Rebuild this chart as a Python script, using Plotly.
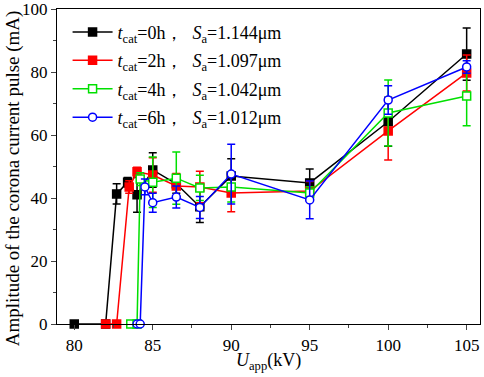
import plotly.graph_objects as go

# Data
x_0h = [80, 82, 82.7, 83.4, 84, 85, 86.5, 88, 90, 95, 100, 105]
y_0h = [0, 0, 41.3, 45, 41, 48.9, 44.5, 37.2, 47, 44.8, 64.2, 85.7]
e_0h = [0, 0, 3.2, 1.5, 5.5, 5.5, 3, 5, 5.5, 4.4, 7.8, 8.3]

x_2h = [82, 82.7, 83.5, 84, 85, 86.5, 88, 90, 95, 100, 105]
y_2h = [0, 0, 43.5, 48.3, 47.3, 43.8, 43.5, 41.6, 42.2, 61.3, 79.7]
e_2h = [0, 0, 2, 1.5, 5.5, 4, 5, 6, 3, 9.2, 5.7]

x_4h = [83.6, 84, 84.2, 85, 86.5, 88, 90, 95, 100, 105]
y_4h = [0, 0, 46, 45, 46.3, 43.2, 43.5, 41.6, 67, 72.4]
e_4h = [0, 0, 2, 8, 8.3, 4, 4.8, 2, 10.5, 9.5]

x_6h = [84, 84.2, 84.5, 85, 86.5, 88, 90, 95, 100, 105]
y_6h = [0, 0, 43.5, 38.5, 40.3, 37, 47.6, 39.4, 71.1, 81.6]
e_6h = [0, 0, 2.5, 3, 3.5, 3.5, 9.5, 6, 4.5, 2]

names = [
    "<i>t</i><sub>cat</sub>=0h，  <i>S</i><sub>a</sub>=1.144μm",
    "<i>t</i><sub>cat</sub>=2h，  <i>S</i><sub>a</sub>=1.097μm",
    "<i>t</i><sub>cat</sub>=4h，  <i>S</i><sub>a</sub>=1.042μm",
    "<i>t</i><sub>cat</sub>=6h，  <i>S</i><sub>a</sub>=1.012μm",
]

x_title = "<i>U</i><sub>app</sub>(kV)"
y_title = "Amplitude of the corona current pulse (mA)"

series = [
    (x_0h, y_0h, e_0h, "#000000", "square", "#000000"),
    (x_2h, y_2h, e_2h, "#ff0000", "square", "#ff0000"),
    (x_4h, y_4h, e_4h, "#00e000", "square", "#ffffff"),
    (x_6h, y_6h, e_6h, "#0000ff", "circle", "#ffffff"),
]

fig = go.Figure()
for i, ((xs, ys, es, col, sym, fill), nm) in enumerate(zip(series, names)):
    fig.add_trace(go.Scatter(
        x=xs, y=ys, name=nm, mode="lines+markers", legendgroup=f"g{i}",
        line=dict(color=col, width=1.5),
        marker=dict(symbol=sym, size=8, color=fill, line=dict(color=col, width=1.5)),
        error_y=dict(type="data", array=es, visible=True, color=col, thickness=1.5, width=4),
        cliponaxis=False,
    ))

font = "Liberation Serif, Times New Roman, serif"
fig.update_layout(
    width=484, height=377,
    margin=dict(l=57, r=4, t=9, b=53),
    paper_bgcolor="white", plot_bgcolor="white",
    font=dict(family=font, size=16, color="black"),
    showlegend=True,
    legend=dict(x=0.025, y=0.985, xanchor="left", yanchor="top",
                bgcolor="rgba(0,0,0,0)", font=dict(size=18, family=font),
                tracegroupgap=2, itemwidth=40),
    xaxis=dict(
        range=[78.9, 105.85], tickvals=[80, 85, 90, 95, 100, 105], automargin=False,
        ticks="outside", ticklen=5, tickwidth=1.2, showgrid=False, zeroline=False,
        showline=True, linecolor="black", linewidth=1.2, mirror=True,
        minor=dict(tickvals=[82.5, 87.5, 92.5, 97.5, 102.5], ticks="outside", ticklen=3, tickwidth=1),
        tickfont=dict(size=17), ticklabeloverflow="allow",
    ),
    yaxis=dict(
        range=[0, 100], tickvals=[0, 20, 40, 60, 80, 100], automargin=False,
        ticks="outside", ticklen=5, tickwidth=1.2, showgrid=False, zeroline=False,
        showline=True, linecolor="black", linewidth=1.2, mirror=True,
        minor=dict(tickvals=[10, 30, 50, 70, 90], ticks="outside", ticklen=3, tickwidth=1),
        tickfont=dict(size=17), ticklabeloverflow="allow",
    ),
    annotations=[
        dict(text=x_title, xref="paper", yref="paper", x=0.5, y=-0.076,
             xanchor="center", yanchor="top", showarrow=False, font=dict(size=18)),
        dict(text=y_title, xref="paper", yref="paper", x=-0.104, y=0.463,
             xanchor="center", yanchor="middle", textangle=-90, showarrow=False,
             font=dict(size=19)),
    ],
)

fig.write_html("out.html", config={"displayModeBar": False},
               post_script="document.body.style.margin='0px';")
